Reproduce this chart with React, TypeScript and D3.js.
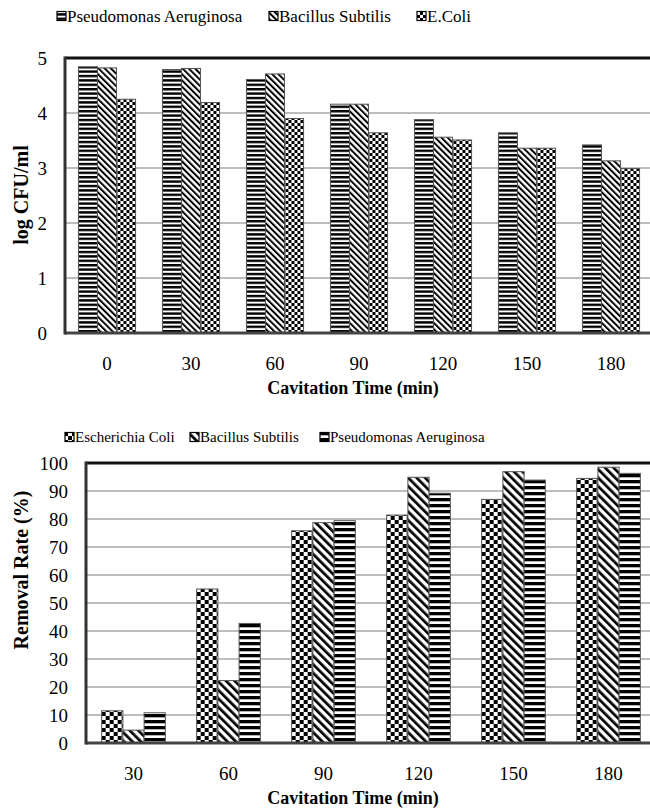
import { useEffect } from 'react';
import * as d3 from 'd3';

// top chart: log CFU/ml vs cavitation time
const topTimes = ['0', '30', '60', '90', '120', '150', '180'];
const topPseudomonas = [4.84, 4.79, 4.61, 4.16, 3.88, 3.64, 3.42];
const topBacillus = [4.82, 4.81, 4.71, 4.16, 3.56, 3.36, 3.13];
const topEcoli = [4.25, 4.19, 3.90, 3.64, 3.51, 3.36, 2.99];
const topTicks = [0, 1, 2, 3, 4, 5];

// bottom chart: removal rate
const botTimes = ['30', '60', '90', '120', '150', '180'];
const botEcoli = [11.5, 55, 75.8, 81.4, 87, 94.5];
const botBacillus = [4.6, 22.3, 78.7, 94.9, 96.9, 98.5];
const botPseudomonas = [10.8, 42.7, 79.4, 89.2, 93.9, 96.3];
const botTicks = [0, 10, 20, 30, 40, 50, 60, 70, 80, 90, 100];

const FONT = 'Liberation Serif, DejaVu Serif, serif';

type Series = { name: string; values: number[]; pat: string };

function BarPanel({
  top, bottom, left, right, cats, series, max, ticks, yLabel, yLabelY, pad, pre, tickSize
}: {
  top: number; bottom: number; left: number; right: number; cats: string[];
  series: Series[]; max: number; ticks: number[]; yLabel: string; yLabelY: number; pad: number; pre: string; tickSize: number;
}) {
  const x = d3.scaleBand<string>().domain(cats).range([left, right]).paddingInner(pad).paddingOuter(pad / 2);
  const x1 = d3.scaleBand<number>().domain(series.map((_, i) => i)).range([0, x.bandwidth()]);
  const y = d3.scaleLinear().domain([0, max]).range([bottom, top]);

  return (
    <g>
      {ticks.slice(1, -1).map(t => (
        <line key={t} x1={left} x2={650} y1={y(t)} y2={y(t)} stroke="#bdbdbd" strokeWidth={2} />
      ))}
      {cats.map((c, ci) => (
        <g key={c} transform={`translate(${x(c)},0)`}>
          {series.map((s, si) => (
            <rect key={si} x={x1(si)} y={y(s.values[ci])} width={x1.bandwidth()}
              height={bottom - y(s.values[ci])} fill={`url(#${pre}${s.pat})`}
              stroke="#555" strokeWidth={1} />
          ))}
        </g>
      ))}
      <line x1={left} x2={650} y1={y(max)} y2={y(max)} stroke="#111" strokeWidth={3} />
      <line x1={left} x2={650} y1={bottom} y2={bottom} stroke="#444" strokeWidth={3} />
      <line x1={left} x2={left} y1={y(max) - 1.5} y2={bottom + 1.5} stroke="#333" strokeWidth={3} />
      {ticks.map(t => (
        <text key={t} x={left - 18} y={y(t)} dy="0.35em" textAnchor="end" fontSize={tickSize} fontFamily={FONT}>{t}</text>
      ))}
      {cats.map(c => (
        <text key={c} x={(x(c) ?? 0) + x.bandwidth() / 2} y={bottom + 30} dy="0.35em" textAnchor="middle" fontSize={tickSize} fontFamily={FONT}>{c}</text>
      ))}
      <text transform={`translate(21,${yLabelY}) rotate(-90)`} textAnchor="middle"
        dy="0.35em" fontSize={20} fontWeight="bold" fontFamily={FONT}>{yLabel}</text>
      <text x={353} y={bottom + 55} dy="0.35em" textAnchor="middle" fontSize={18} fontWeight="bold" fontFamily={FONT}>Cavitation Time (min)</text>
    </g>
  );
}

function Patterns({ pre, p, c }: { pre: string; p: number; c: number }) {
  return (
    <>
      <pattern id={`${pre}h`} patternUnits="userSpaceOnUse" width={p} height={p}>
        <rect width={p} height={p} fill="#fff" />
        <rect width={p} height={p * 0.55} fill="#000" />
      </pattern>
      <pattern id={`${pre}d`} patternUnits="userSpaceOnUse" width={p} height={p} patternTransform="rotate(-45)">
        <rect width={p} height={p} fill="#fff" />
        <rect width={p * 0.45} height={p} fill="#000" />
      </pattern>
      <pattern id={`${pre}c`} patternUnits="userSpaceOnUse" width={c * 2} height={c * 2}>
        <rect width={c * 2} height={c * 2} fill="#fff" />
        <rect width={c} height={c} fill="#000" />
        <rect x={c} y={c} width={c} height={c} fill="#000" />
      </pattern>
    </>
  );
}

function Legend({ items, y, size, pre }: { items: { x: number; label: string; pat: string }[]; y: number; size: number; pre: string }) {
  return (
    <g>
      {items.map(it => (
        <g key={it.label}>
          <rect x={it.x} y={y - 4.5} width={9} height={9} fill={`url(#${pre}${it.pat})`} stroke="#000" strokeWidth={1.2} />
          <text x={it.x + 10} y={y} dy="0.35em" fontSize={size} fontFamily={FONT}>{it.label}</text>
        </g>
      ))}
    </g>
  );
}

export default function App() {
  useEffect(() => {
    document.body.style.margin = '0';
  }, []);

  return (
    <svg width={650} height={808} style={{ display: 'block', background: '#fff' }}>
      <defs>
        <Patterns pre="t" p={4.4} c={3} />
        <Patterns pre="b" p={6} c={4} />
      </defs>
      <Legend pre="t" y={16} size={17} items={[
        { x: 57, label: 'Pseudomonas Aeruginosa', pat: 'h' },
        { x: 269, label: 'Bacillus Subtilis', pat: 'd' },
        { x: 417, label: 'E.Coli', pat: 'c' },
      ]} />
      <BarPanel top={58} bottom={333} left={65} right={653} cats={topTimes} max={5} ticks={topTicks}
        yLabel="log CFU/ml" yLabelY={195} pad={0.32} pre="t" tickSize={19}
        series={[
          { name: 'Pseudomonas Aeruginosa', values: topPseudomonas, pat: 'h' },
          { name: 'Bacillus Subtilis', values: topBacillus, pat: 'd' },
          { name: 'E.Coli', values: topEcoli, pat: 'c' },
        ]} />
      <Legend pre="b" y={437} size={15} items={[
        { x: 65, label: 'Escherichia Coli', pat: 'c' },
        { x: 190, label: 'Bacillus Subtilis', pat: 'd' },
        { x: 320, label: 'Pseudomonas Aeruginosa', pat: 'h' },
      ]} />
      <BarPanel top={463} bottom={743} left={86} right={656} cats={botTimes} max={100} ticks={botTicks}
        yLabel="Removal Rate (%)" yLabelY={570} pad={0.33} pre="b" tickSize={19}
        series={[
          { name: 'Escherichia Coli', values: botEcoli, pat: 'c' },
          { name: 'Bacillus Subtilis', values: botBacillus, pat: 'd' },
          { name: 'Pseudomonas Aeruginosa', values: botPseudomonas, pat: 'h' },
        ]} />
    </svg>
  );
}
